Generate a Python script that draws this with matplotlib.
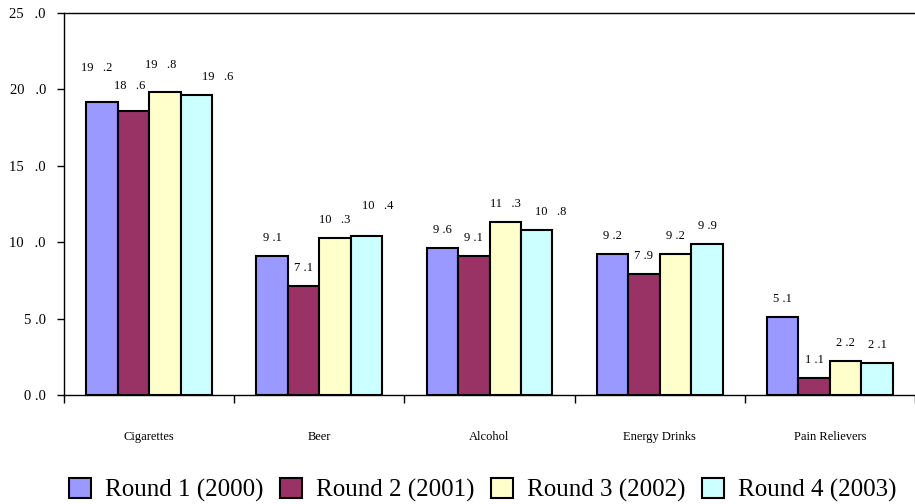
import numpy as np
import matplotlib.pyplot as plt
from matplotlib.ticker import FixedLocator

plt.rcParams["font.family"] = ["Liberation Serif", "DejaVu Serif"]

categories = ["Cigarettes", "Beer", "Alcohol", "Energy Drinks", "Pain Relievers"]
rounds = ["Round 1 (2000)", "Round 2 (2001)", "Round 3 (2002)", "Round 4 (2003)"]
round1 = [19.2, 9.1, 9.6, 9.2, 5.1]
round2 = [18.6, 7.1, 9.1, 7.9, 1.1]
round3 = [19.8, 10.3, 11.3, 9.2, 2.2]
round4 = [19.6, 10.4, 10.8, 9.9, 2.1]
colors = ["#9999FF", "#993366", "#FFFFCC", "#CCFFFF"]

# label nudges (points) used by the original to keep crowded labels apart
label_dx = [[-4, 0, 0, 0, 0], [-3, 0, 0, 0, 0], [-3, 0, 0, 0, 0], [15, 8, 10, 0, 0]]
label_dy = [[24, 13, 13, 13, 13], [18, 13, 13, 13, 13],
            [20, 13, 13, 13, 13], [13, 22, 13, 13, 13]]


def spaced(v):
    whole, dec = f"{v:.1f}".split(".")
    gap = "   " if len(whole) > 1 else " "
    return whole + gap + "." + dec


fig = plt.figure(figsize=(9.15, 5.04), dpi=100)
ax = fig.add_axes([0.070, 0.2163, 0.930, 0.758])

x = np.arange(len(categories))
w = 0.185
series = [round1, round2, round3, round4]
for i, vals in enumerate(series):
    pos = x + (i - 1.5) * w
    ax.bar(pos, vals, width=w, color=colors[i], edgecolor="black",
           linewidth=1.5, label=rounds[i])
    for j, (xp, v) in enumerate(zip(pos, vals)):
        ax.annotate(spaced(v), (xp, v), xytext=(label_dx[i][j], label_dy[i][j]),
                    textcoords="offset points", ha="center", va="center", fontsize=9)

ax.set_xlim(-0.5, 4.5)
ax.set_ylim(0, 25)
yt = np.arange(0, 26, 5)
ax.set_yticks(yt)
ax.set_yticklabels([spaced(t) for t in yt], fontsize=10.5)
ax.tick_params(axis="y", length=5, width=1, pad=8)

ax.xaxis.set_major_locator(FixedLocator(np.arange(-0.5, 5, 1)))
ax.xaxis.set_major_formatter(plt.NullFormatter())
ax.tick_params(axis="x", which="major", length=6, width=1)
ax.set_xticks(x, minor=True)
ax.set_xticklabels(categories, minor=True, fontsize=9)
ax.tick_params(axis="x", which="minor", length=0, pad=26)

ax.spines["right"].set_visible(False)
for s in ["left", "bottom", "top"]:
    ax.spines[s].set_linewidth(1)

ax.legend(loc="upper center", bbox_to_anchor=(0.492, -0.19), ncol=4, frameon=False,
          fontsize=18, handlelength=0.9, handleheight=0.9, handletextpad=0.55,
          columnspacing=0.65, borderaxespad=0)

fig.savefig("out.png", dpi=100)
